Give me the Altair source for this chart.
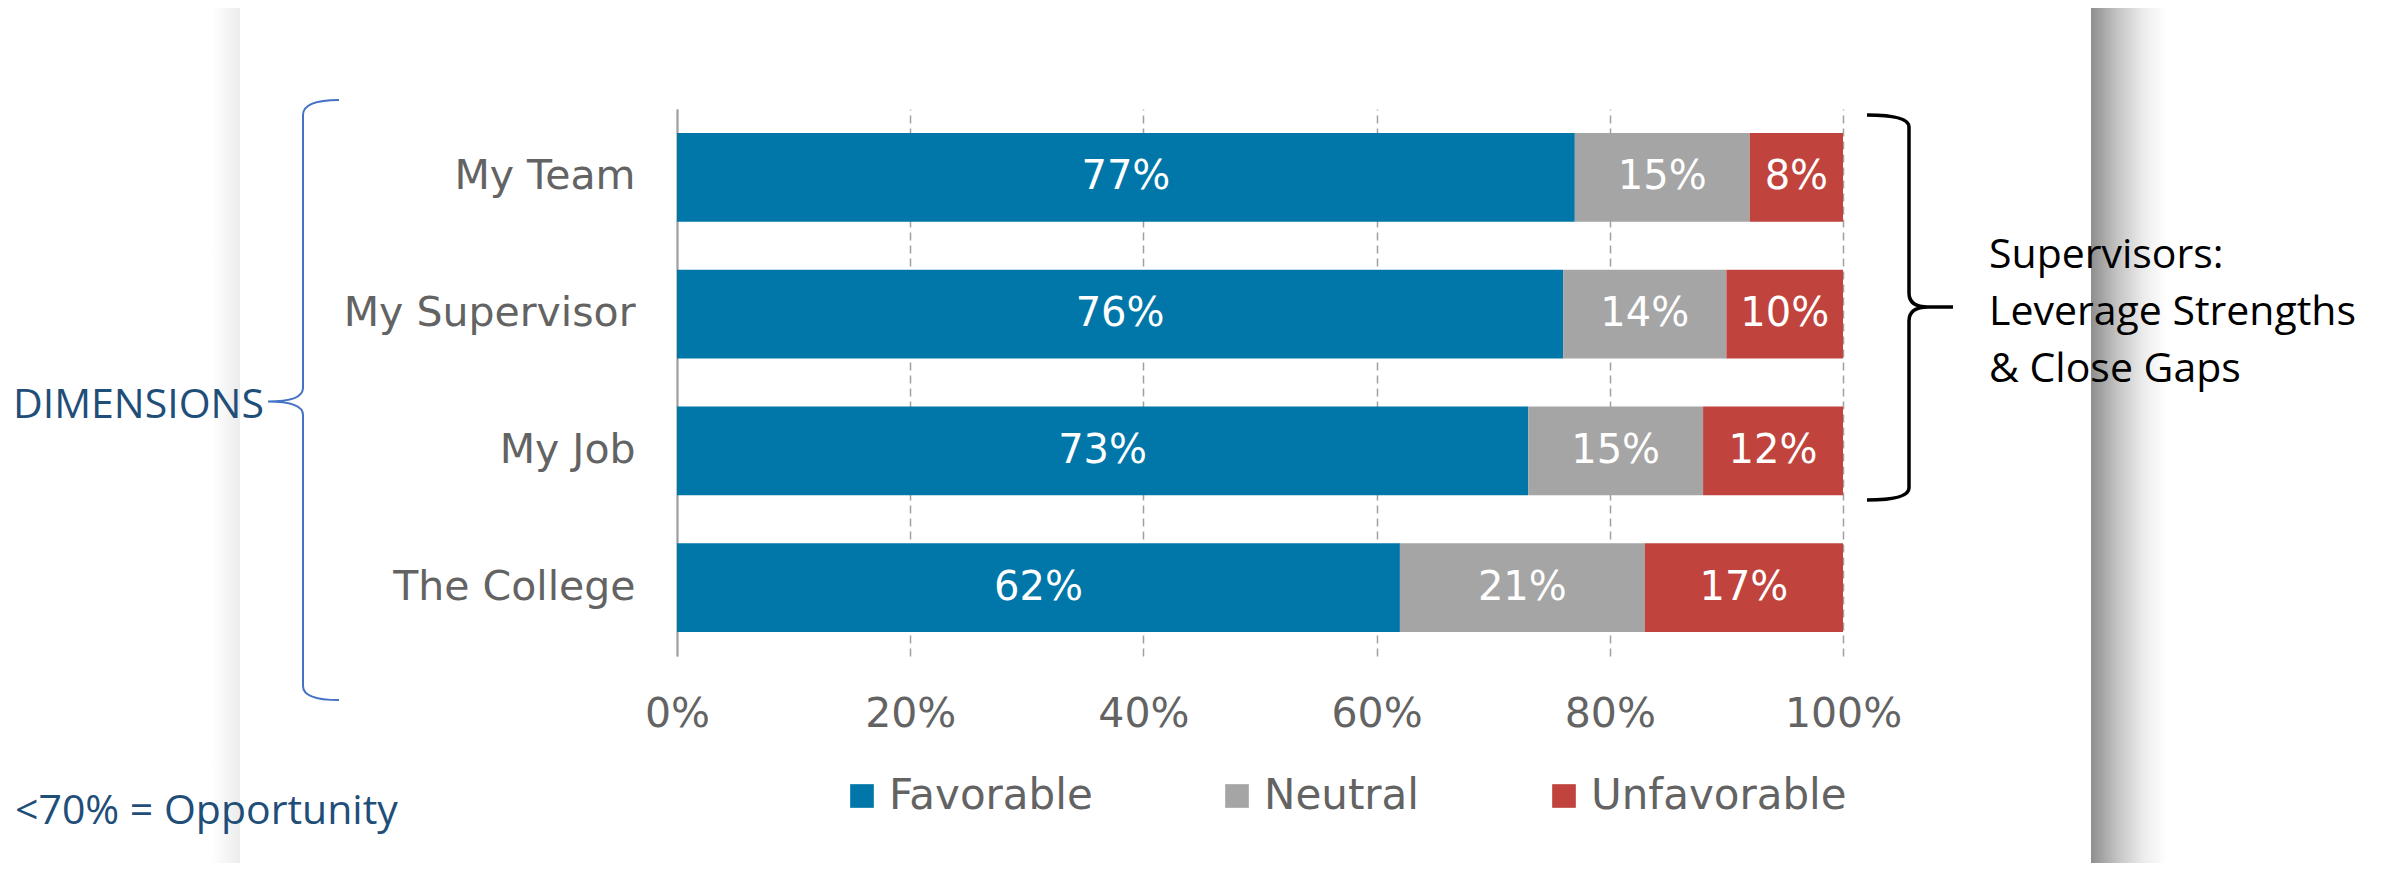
import altair as alt
import pandas as pd

categories = ["My Team", "My Supervisor", "My Job", "The College"]
responses = ["Favorable", "Neutral", "Unfavorable"]
favorable = [77, 76, 73, 62]
neutral = [15, 14, 15, 21]
unfavorable = [8, 10, 12, 17]
colors = ["#0077A8", "#A5A5A5", "#C0443D"]
tick_values = [0, 20, 40, 60, 80, 100]

rows = []
for i, c in enumerate(categories):
    for j, (r, vals) in enumerate(zip(responses, [favorable, neutral, unfavorable])):
        rows.append({"category": c, "response": r, "value": vals[i], "order": j})
df = pd.DataFrame(rows)

FONT = "DejaVu Sans"
CAL = "Open Sans"
GRAY = "#636363"

xscale = alt.Scale(domain=[0, 100], nice=False, zero=True)
yscale = alt.Scale(domain=categories, paddingInner=0.35, paddingOuter=0.175)

base = (
    alt.Chart(df)
    .transform_stack(stack="value", groupby=["category"], as_=["x0", "x1"],
                     sort=[alt.SortField("order", order="ascending")])
    .transform_calculate(mid="(datum.x0 + datum.x1) / 2", label="datum.value + '%'")
)

bars = base.mark_bar().encode(
    x=alt.X("x0:Q", scale=xscale,
            axis=alt.Axis(values=tick_values, labelExpr="datum.value + '%'", title=None,
                          domain=False, ticks=False, tickSize=0, grid=True,
                          gridColor="#a0a0a0", gridWidth=1.5, labelFlush=False,
                          labelAlign="center",
                          gridDash={"condition": {"test": "datum.value === 0", "value": []}, "value": [8, 5]},
                          labelFont=FONT, labelFontSize=41, labelColor=GRAY, labelPadding=38)),
    x2="x1:Q",
    y=alt.Y("category:N", scale=yscale, sort=categories,
            axis=alt.Axis(title=None, domain=True, domainColor="#a0a0a0", domainWidth=2,
                          ticks=False, tickSize=0, grid=False, labelFont=FONT, labelFontSize=41,
                          labelColor=GRAY, labelPadding=42, labelLimit=500)),
    color=alt.Color("response:N", sort=responses,
                    scale=alt.Scale(domain=responses, range=colors),
                    legend=alt.Legend(orient="none", legendX=164, legendY=666, direction="horizontal",
                                      title=None, symbolType="square", symbolSize=560,
                                      symbolStrokeWidth=0, labelFont=FONT, labelFontSize=42,
                                      labelColor=GRAY, labelOffset=6, columnPadding=123,
                                      padding=0, labelLimit=400)),
    order=alt.Order("order:Q"),
)

labels = base.mark_text(color="white", font=FONT, fontSize=40, baseline="middle").encode(
    x=alt.X("mid:Q", scale=xscale),
    y=alt.Y("category:N", scale=yscale, sort=categories),
    text="label:N",
)

one = pd.DataFrame({"a": [0]})

# background card shadows
right_shadow = alt.Chart(one).mark_rect(
    color=alt.Gradient(gradient="linear",
                       stops=[alt.GradientStop(color="#8e8e8e", offset=0),
                              alt.GradientStop(color="#c4c4c4", offset=0.35),
                              alt.GradientStop(color="#ededed", offset=0.7),
                              alt.GradientStop(color="#ffffff", offset=1)],
                       x1=0, x2=1, y1=0, y2=0)
).encode(x=alt.value(1414), x2=alt.value(1490), y=alt.value(-101), y2=alt.value(760))

left_shadow = alt.Chart(one).mark_rect(
    color=alt.Gradient(gradient="linear",
                       stops=[alt.GradientStop(color="#ffffff", offset=0),
                              alt.GradientStop(color="#ececec", offset=1)],
                       x1=0, x2=1, y1=0, y2=0)
).encode(x=alt.value(-465), x2=alt.value(-437), y=alt.value(-101), y2=alt.value(760))

# braces
left_brace_path = ("M 0.12 -1 Q 0 -1 0 -0.95 L 0 -0.04 Q 0 0.005 -0.1167 0.005 "
                   "Q 0 0.005 0 0.05 L 0 0.953 Q 0 1 0.12 1")
left_brace = alt.Chart(one).mark_point(shape=left_brace_path, filled=False, color="#4472C4",
                                       strokeWidth=2, opacity=1).encode(
    x=alt.value(-374), y=alt.value(291), size=alt.value(360000))

right_brace_path = ("M -0.21 -0.9625 Q 0 -0.9625 0 -0.9025 L 0 -0.0725 Q 0 -0.0025 0.095 -0.0025 "
                    "L 0.22 -0.0025 M 0.095 -0.0025 Q 0 -0.0025 0 0.0675 L 0 0.9025 "
                    "Q 0 0.9625 -0.21 0.9625")
right_brace = alt.Chart(one).mark_point(shape=right_brace_path, filled=False, color="#000000",
                                        strokeWidth=3.5, opacity=1).encode(
    x=alt.value(1232), y=alt.value(198.5), size=alt.value(160000))

dim_text = alt.Chart(one).mark_text(text="DIMENSIONS", font=CAL, fontSize=41, color="#1F4E79",
                                    align="left", baseline="alphabetic").encode(
    x=alt.value(-664), y=alt.value(308.6))

opp_text = alt.Chart(one).mark_text(text="<70% = Opportunity", font=CAL, fontSize=41,
                                    color="#1F4E79", align="left", baseline="alphabetic").encode(
    x=alt.value(-662), y=alt.value(715))

sup_text = alt.Chart(one).mark_text(text=["Supervisors:", "Leverage Strengths", "& Close Gaps"],
                                    font=CAL, fontSize=41, color="#000000", align="left",
                                    baseline="alphabetic", lineHeight=57).encode(
    x=alt.value(1312), y=alt.value(159))

chart = alt.layer(
    left_shadow, right_shadow, bars, labels, left_brace, right_brace, dim_text, opp_text, sup_text
).resolve_scale(color="independent").properties(
    width=1166, height=547,
    autosize=alt.AutoSizeParams(type="none"),
    padding={"left": 669, "top": 101, "right": 535, "bottom": 207},
    background="white",
).configure_view(stroke=None)

chart.save("out.html", embed_options={"renderer": "svg", "actions": False})
